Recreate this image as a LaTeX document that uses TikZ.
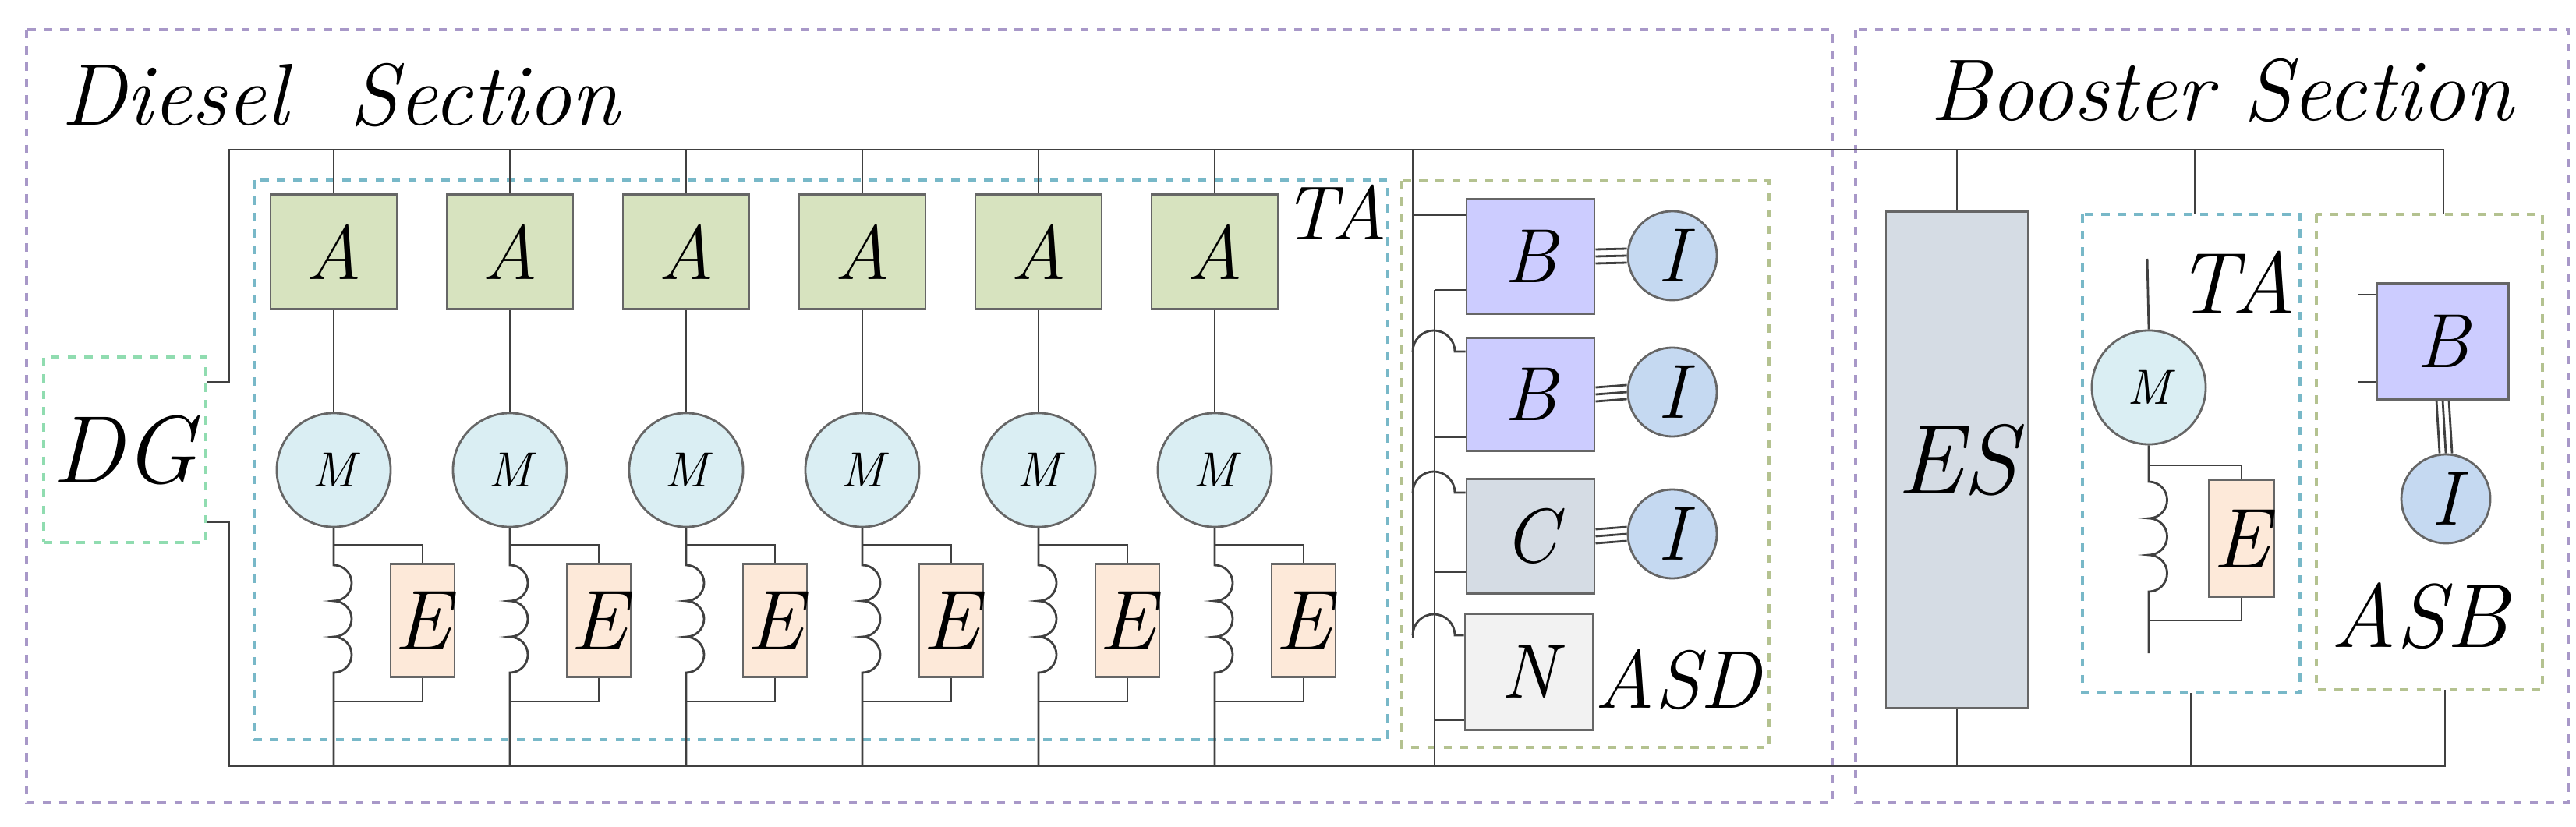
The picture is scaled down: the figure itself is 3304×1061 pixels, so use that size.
\documentclass[tikz,border=0pt]{standalone}
\usepackage{xcolor}
\usetikzlibrary{positioning}
\definecolor{agreen}{HTML}{D7E3BF}
\definecolor{mblue}{HTML}{DAEEF3}
\definecolor{eorange}{HTML}{FDE9D9}
\definecolor{bviolet}{HTML}{CCCCFF}
\definecolor{iblue}{HTML}{C5D9F1}
\definecolor{cgray}{HTML}{D5DCE4}
\definecolor{ngray}{HTML}{F2F2F2}
\definecolor{secline}{HTML}{A898C8}
\definecolor{taline}{HTML}{78B8C8}
\definecolor{dgline}{HTML}{90DCB0}
\definecolor{asline}{HTML}{B4C290}
\tikzset{
  big/.style={font=\fontsize{28}{32}\selectfont\itshape},
  box/.style={draw=black!60,thick,inner sep=0pt,big},
  wire/.style={draw=black!75,thick},
  sect/.style={draw=#1,dashed,very thick},
}
\begin{document}
\begin{tikzpicture}[x=0.01cm,y=-0.01cm]
    \useasboundingbox (0,0) rectangle (3304,1061);
    % sections
    \draw[sect=secline] (34,38) rectangle (2350,1030);
    \draw[sect=secline] (2380,38) rectangle (3294,1030);
    \node[font=\fontsize{32}{36}\selectfont\itshape,anchor=west] (dtitle) at (66,122) {Diesel\ \ Section};
    \node[font=\fontsize{32}{36}\selectfont\itshape,anchor=east] (btitle) at (3236,116) {Booster Section};
    \draw[sect=taline] (326,231) rectangle (1780,949);
    \draw[sect=asline] (1798,232) rectangle (2269,959);
    \draw[sect=taline] (2671,275) rectangle (2950,889);
    \draw[sect=asline] (2971,275) rectangle (3261,885);
    \node[big] (ta1) at (1712,272) {TA};
    \node[big,font=\fontsize{32}{36}\selectfont\itshape] (ta2) at (2868,362) {TA};
    \node[big,font=\fontsize{30}{36}\selectfont\itshape] (asd) at (2152,872) {ASD};
    \node[big,font=\fontsize{33}{36}\selectfont\itshape] (asb) at (3103,790) {ASB};
    % generator and buses
    \node[draw=dgline,dashed,very thick,minimum width=1.88cm,minimum height=2.38cm,
      font=\fontsize{35}{40}\selectfont\itshape] (dg) at (160,577) {DG};
    \coordinate (tl) at (294,192);
    \coordinate (tr) at (3134,192);
    \coordinate (bl) at (294,983);
    \coordinate (br) at (3136,983);
    \draw[wire] (dg.east |- 0,490) -- (tl |- 0,490) -- (tl) -- (tr) -- (3134,275);
    \draw[wire] (dg.east |- 0,670) -- (bl |- 0,670) -- (bl) -- (br) -- (3136,885);
    % traction branches
    \foreach \i in {0,...,5}{
      \pgfmathsetmacro\cx{428+226*\i}
      \node[box,fill=agreen,minimum width=1.62cm,minimum height=1.47cm] (a\i) at (\cx,323) {A};
      \node[box,circle,fill=mblue,minimum size=1.46cm,font=\fontsize{18}{20}\selectfont\itshape] (m\i) at (\cx,603) {M};
      \node[box,fill=eorange,minimum width=0.82cm,minimum height=1.45cm,font=\fontsize{31}{34}\selectfont\itshape] (e\i) at (\cx+114,796) {E};
      \draw[wire] (a\i.north) -- (a\i.north |- tl);
      \draw[wire] (a\i.south) -- (m\i.north);
      \draw[wire] (m\i.south) -- (\cx,725) arc[start angle=-90,end angle=90,radius=23]
        arc[start angle=-90,end angle=90,radius=23] arc[start angle=-90,end angle=90,radius=23]
        -- (m\i.south |- bl);
      \draw[wire] (\cx,699) -| (e\i.north);
      \draw[wire] (\cx,900) -| (e\i.south);
    }
    % auxiliary loads of the diesel section
    \node[box,fill=bviolet,minimum width=1.64cm,minimum height=1.48cm] (b1) at (1963,329) {B};
    \node[box,fill=bviolet,minimum width=1.64cm,minimum height=1.45cm] (b2) at (1963,506) {B};
    \node[box,fill=cgray,minimum width=1.64cm,minimum height=1.47cm] (c1) at (1963,688) {C};
    \node[box,fill=ngray,minimum width=1.64cm,minimum height=1.49cm] (n1) at (1961,862) {N};
    \node[box,circle,fill=iblue,minimum size=1.14cm] (i1) at (2145,328) {I};
    \node[box,circle,fill=iblue,minimum size=1.14cm] (i2) at (2145,503) {I};
    \node[box,circle,fill=iblue,minimum size=1.14cm] (i3) at (2145,685) {I};
    \draw[wire] (1812,192) -- (1812,818);
    \draw[wire] (1840,372) -- (1840,983);
    \draw[wire] (1812,276) -- (b1.west |- 0,276);
    \draw[wire] (1840,372) -- (b1.west |- 0,372);
    \foreach \b/\t/\u in {b2/451/561,c1/632/734,n1/815/924}{
      \draw[wire] (1812,\t) arc[start angle=180,end angle=360,radius=27] -- (\b.west |- 0,\t);
      \draw[wire] (1840,\u) -- (\b.west |- 0,\u);
    }
    \foreach \b/\c in {b1/i1,b2/i2,c1/i3}
      \foreach \d in {-9,0,9}
        \draw[wire] ([yshift=\d*0.01cm]\b.east) -- ([yshift=\d*0.01cm]\c.west);
    % booster section
    \node[box,fill=cgray,minimum width=1.82cm,minimum height=6.36cm,font=\fontsize{36}{40}\selectfont\itshape] (es) at (2510,590) {ES};
    \draw[wire] (es.north) -- (es.north |- tr);
    \draw[wire] (es.south) -- (es.south |- br);
    \draw[wire] (2815,192) -- (2815,275);
    \draw[wire] (2810,889) -- (2810,983);
    \node[box,circle,fill=mblue,minimum size=1.46cm,font=\fontsize{18}{20}\selectfont\itshape] (m6) at (2756,497) {M};
    \node[box,fill=eorange,minimum width=0.83cm,minimum height=1.5cm,font=\fontsize{31}{34}\selectfont\itshape] (e6) at (2875,691) {E};
    \draw[wire] (m6.north) -- (2754,332);
    \draw[wire] (m6.south) -- (2756,618) arc[start angle=-90,end angle=90,radius=23.5]
      arc[start angle=-90,end angle=90,radius=23.5] arc[start angle=-90,end angle=90,radius=23.5]
      -- (2756,838);
    \draw[wire] (2756,597) -| (e6.north);
    \draw[wire] (2756,796) -| (e6.south);
    \node[box,fill=bviolet,minimum width=1.68cm,minimum height=1.49cm] (b3) at (3133,438) {B};
    \node[box,circle,fill=iblue,minimum size=1.14cm] (i4) at (3137,640) {I};
    \draw[wire] (b3.west |- 0,378) -- (3025,378);
    \draw[wire] (b3.west |- 0,490) -- (3025,490);
    \foreach \d in {-8,0,8}
      \draw[wire] ([xshift=\d*0.01cm]b3.south) -- ([xshift=\d*0.01cm]i4.north);
\end{tikzpicture}
\end{document}
